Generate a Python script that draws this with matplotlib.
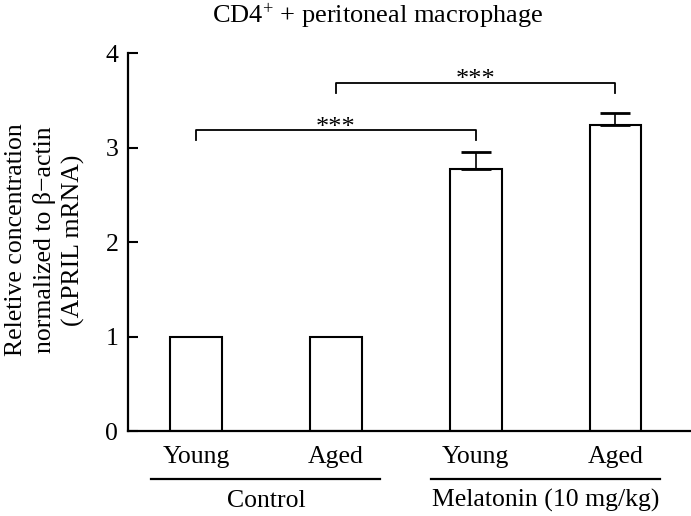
import matplotlib
matplotlib.use("Agg")
import matplotlib.pyplot as plt

plt.rcParams["font.family"] = ["Liberation Serif", "DejaVu Serif"]
plt.rcParams["mathtext.fontset"] = "custom"
plt.rcParams["mathtext.rm"] = "Liberation Serif"
plt.rcParams["mathtext.it"] = "Liberation Serif:italic"

groups = ["Control", "Melatonin (10 mg/kg)"]
tick_labels = ["Young", "Aged", "Young", "Aged"]
values = [1.0, 1.0, 2.77, 3.24]
errors = [0.0, 0.0, 0.18, 0.13]
brackets = [(0, 2, 3.19), (1, 3, 3.69)]
bracket_labels = ["***", "***"]

FS = 18.5


def main():
    fig = plt.figure(figsize=(6.91, 5.16), dpi=100)
    ax = fig.add_axes([128 / 691, 1 - 431 / 516, 1 - 128 / 691, (431 - 53.3) / 516])

    x = list(range(len(values)))
    ax.bar(x, values, width=0.37, color="white", edgecolor="black", linewidth=1.5, zorder=2)

    # upward-only error bars for the bars that have them
    ex = [i for i in x if errors[i] > 0]
    ax.errorbar(
        ex,
        [values[i] for i in ex],
        yerr=[[0] * len(ex), [errors[i] for i in ex]],
        fmt="none",
        ecolor="black",
        elinewidth=1.2,
        capsize=11,
        capthick=2,
        zorder=3,
    )

    # significance brackets
    for (a, b, h), lab in zip(brackets, bracket_labels):
        ax.plot([a, a, b, b], [h - 0.106, h, h, h - 0.106], color="black", lw=1.3, zorder=3)
        ax.text((a + b) / 2, h - 0.04, lab, ha="center", va="baseline", fontsize=19)

    ax.set_xlim(-0.486, 3.54)
    ax.set_ylim(0, 4)
    ax.set_yticks([0, 1, 2, 3, 4])
    ax.set_xticks(x)
    ax.set_xticklabels(tick_labels)
    ax.tick_params(axis="x", length=0, pad=11, labelsize=FS)
    ax.tick_params(axis="y", direction="in", length=7, width=1.5, labelsize=FS, pad=7)

    for side in ["top", "right"]:
        ax.spines[side].set_visible(False)
    for side in ["left", "bottom"]:
        ax.spines[side].set_linewidth(1.6)

    ax.set_ylabel(
        "Reletive concentration\nnormalized to β\u2212actin\n(APRIL mRNA)",
        fontsize=FS,
        linespacing=1.35,
    )
    ax.yaxis.set_label_coords(-0.076, 0.506)

    # group underlines and labels
    trans = ax.get_xaxis_transform()
    for gi, name in enumerate(groups):
        c = 2 * gi + 0.5
        ax.plot([c - 0.818, c + 0.818], [-0.127, -0.127], color="black", lw=1.6,
                transform=trans, clip_on=False)
        ax.text(c, -0.201, name, ha="center", va="baseline", fontsize=FS, transform=trans)

    fig.text(378 / 691, 1 - 23 / 516, "CD4$^{+}$ + peritoneal macrophage",
             ha="center", va="baseline", fontsize=19)

    fig.savefig("out.png", dpi=100)


if __name__ == "__main__":
    main()
